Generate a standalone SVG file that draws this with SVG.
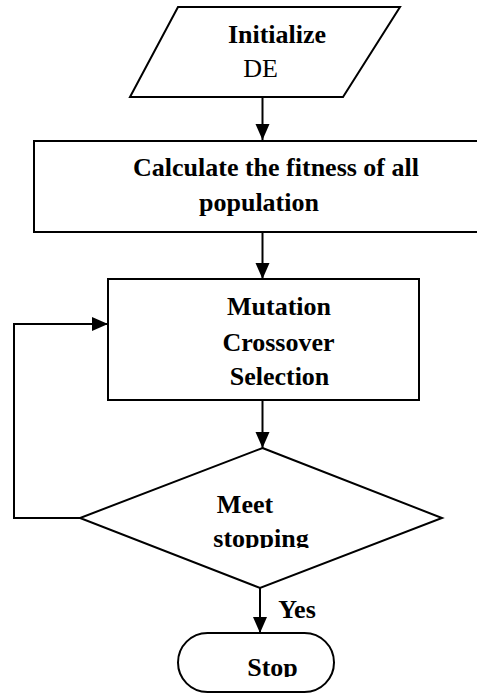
<svg xmlns="http://www.w3.org/2000/svg" width="477" height="694" viewBox="0 0 477 694">
  <style>
    .shape { fill: #ffffff; stroke: #000000; stroke-width: 2; }
    .line { fill: none; stroke: #000000; stroke-width: 2; }
    .t { font-family: "Liberation Serif", "Times New Roman", serif; font-size: 26px; fill: #000000; text-anchor: middle; }
    .b { font-weight: bold; }
  </style>
  <defs>
    <marker id="arrow" markerUnits="userSpaceOnUse" markerWidth="16" markerHeight="16" refX="16" refY="7" orient="auto">
      <path d="M0,0 L16,7 L0,14 Z" fill="#000000"/>
    </marker>
    <clipPath id="clipDiamond">
      <rect x="150" y="480" width="220" height="68"/>
    </clipPath>
    <clipPath id="clipStop">
      <rect x="180" y="640" width="150" height="37"/>
    </clipPath>
  </defs>
  <rect width="477" height="694" fill="#ffffff"/>

  <g id="connectors">
    <line class="line" x1="262.5" y1="97" x2="262.5" y2="140" marker-end="url(#arrow)"/>
    <line class="line" x1="262.5" y1="233" x2="262.5" y2="279" marker-end="url(#arrow)"/>
    <line class="line" x1="262.5" y1="400" x2="262.5" y2="448" marker-end="url(#arrow)"/>
    <polyline class="line" points="80,518 14,518 14,324 108,324" marker-end="url(#arrow)"/>
    <line class="line" x1="260" y1="588" x2="260" y2="633" marker-end="url(#arrow)"/>
    <text class="t b" x="297" y="618">Yes</text>
  </g>

  <g id="node-init">
    <polygon class="shape" points="178,7 400,7 343,97 130,97"/>
    <text class="t b" x="277" y="43">Initialize</text>
    <text class="t" x="260.5" y="77">DE</text>
  </g>

  <g id="node-fitness">
    <rect class="shape" x="34" y="141" width="450" height="91"/>
    <text class="t b" x="276" y="176">Calculate the fitness of all</text>
    <text class="t b" x="259" y="211">population</text>
  </g>

  <g id="node-ops">
    <rect class="shape" x="108" y="279" width="311" height="121"/>
    <text class="t b" x="279" y="315">Mutation</text>
    <text class="t b" x="278.5" y="351">Crossover</text>
    <text class="t b" x="279.5" y="385">Selection</text>
  </g>

  <g id="node-decision">
    <polygon class="shape" points="262.5,448 442,518 260,588 80,518"/>
    <g clip-path="url(#clipDiamond)">
      <text class="t b" x="245" y="513">Meet</text>
      <text class="t b" x="261" y="547">stopping</text>
    </g>
  </g>

  <g id="node-stop">
    <rect class="shape" x="178" y="633" width="156" height="59" rx="29.5" ry="29.5"/>
    <g clip-path="url(#clipStop)">
      <text class="t b" x="272.5" y="676">Stop</text>
    </g>
  </g>
</svg>
